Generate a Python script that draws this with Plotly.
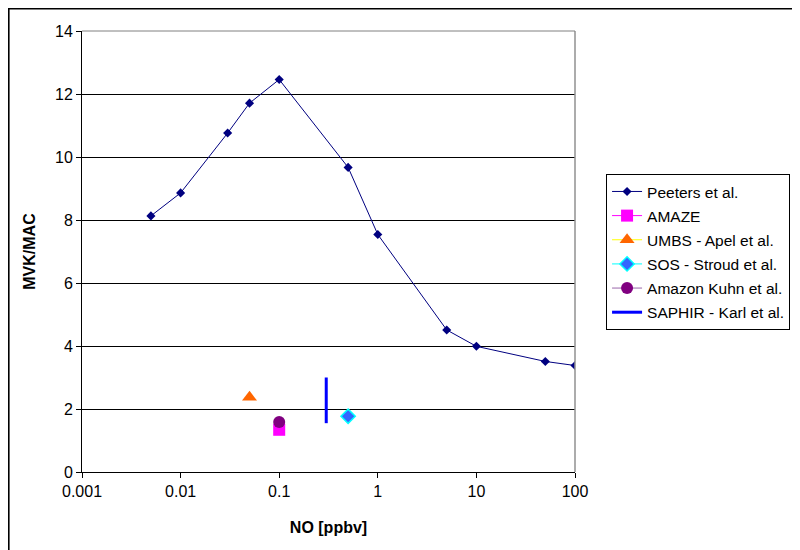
import plotly.graph_objects as go

# Data
peeters_no = [0.005, 0.01, 0.03, 0.05, 0.1, 0.5, 1, 5, 10, 50, 100]
peeters_ratio = [8.13, 8.86, 10.76, 11.71, 12.46, 9.67, 7.54, 4.51, 3.99, 3.51, 3.38]
amaze_no = [0.1]
amaze_ratio = [1.34]
umbs_no = [0.05]
umbs_ratio = [2.37]
sos_no = [0.5]
sos_ratio = [1.77]
kuhn_no = [0.1]
kuhn_ratio = [1.59]
saphir_no = [0.3, 0.3]
saphir_ratio = [1.55, 3.0]
x_tickvals = [0.001, 0.01, 0.1, 1, 10, 100]
x_ticktext = ["0.001", "0.01", "0.1", "1", "10", "100"]

FONT = "Liberation Sans, Arial, sans-serif"
L, T, PW, PH = 74, 23, 493, 441

fig = go.Figure()
fig.add_trace(go.Scatter(x=peeters_no, y=peeters_ratio, mode="lines+markers",
                         name="Peeters et al.", legendgroup="a",
                         line=dict(color="#000080", width=1),
                         marker=dict(symbol="diamond", size=7, color="#000080")))
fig.add_trace(go.Scatter(x=amaze_no, y=amaze_ratio, mode="lines+markers",
                         name="AMAZE", legendgroup="b",
                         line=dict(color="#ff00ff", width=1),
                         marker=dict(symbol="square", size=12, color="#ff00ff")))
fig.add_trace(go.Scatter(x=umbs_no, y=umbs_ratio, mode="lines+markers",
                         name="UMBS - Apel et al.", legendgroup="c",
                         line=dict(color="#ffff00", width=1),
                         marker=dict(symbol="triangle-up", size=13, color="#ff6600")))
fig.add_trace(go.Scatter(x=sos_no, y=sos_ratio, mode="lines+markers",
                         name="SOS - Stroud et al.", legendgroup="d",
                         line=dict(color="#00ffff", width=1),
                         marker=dict(symbol="diamond", size=11, color="#3366ff",
                                     line=dict(color="#00ffff", width=1.5))))
fig.add_trace(go.Scatter(x=kuhn_no, y=kuhn_ratio, mode="lines+markers",
                         name="Amazon Kuhn et al.", legendgroup="e",
                         line=dict(color="#9966aa", width=1),
                         marker=dict(symbol="circle", size=12, color="#800080")))
fig.add_trace(go.Scatter(x=saphir_no, y=saphir_ratio, mode="lines",
                         name="SAPHIR - Karl et al.", legendgroup="f",
                         line=dict(color="#0000ff", width=3)))

fig.update_layout(
    width=800, height=550,
    margin=dict(l=L, r=800 - L - PW, t=T, b=550 - T - PH, autoexpand=False),
    paper_bgcolor="white", plot_bgcolor="white",
    font=dict(family=FONT, size=16, color="black"),
    showlegend=True,
    legend=dict(x=1.063, y=0.676, xanchor="left", yanchor="top",
                bordercolor="black", borderwidth=1, bgcolor="white",
                font=dict(family=FONT, size=15.5, color="black"),
                tracegroupgap=1, itemwidth=30),
    xaxis=dict(type="log", range=[-3, 2], tickvals=x_tickvals, ticktext=x_ticktext,
               showgrid=False, showline=True, linecolor="black", linewidth=1,
               ticks="outside", ticklen=5, tickcolor="black", zeroline=False,
               title=dict(text="<b>NO [ppbv]</b>", font=dict(family=FONT, size=16), standoff=22),
               tickfont=dict(family=FONT, size=16)),
    yaxis=dict(range=[0, 14], dtick=2, showgrid=True, gridcolor="black", gridwidth=1,
               showline=True, linecolor="black", linewidth=1,
               ticks="outside", ticklen=5, tickcolor="black", zeroline=False,
               title=dict(text="<b>MVK/MAC</b>", font=dict(family=FONT, size=16), standoff=15),
               tickfont=dict(family=FONT, size=16)),
    shapes=[
        dict(type="line", xref="paper", yref="paper", x0=1, x1=1, y0=0, y1=1,
             line=dict(color="#909090", width=1.5)),
        dict(type="line", xref="paper", yref="paper", x0=0, x1=1, y0=1, y1=1,
             line=dict(color="#808080", width=1)),
        dict(type="rect", xref="paper", yref="paper",
             x0=(0.8 - L) / PW, x1=(810 - L) / PW,
             y0=-(560 - T - PH) / PH, y1=1 + (T - 0.8) / PH,
             line=dict(color="black", width=1.6), layer="below"),
    ],
)

fig.write_html("out.html")
